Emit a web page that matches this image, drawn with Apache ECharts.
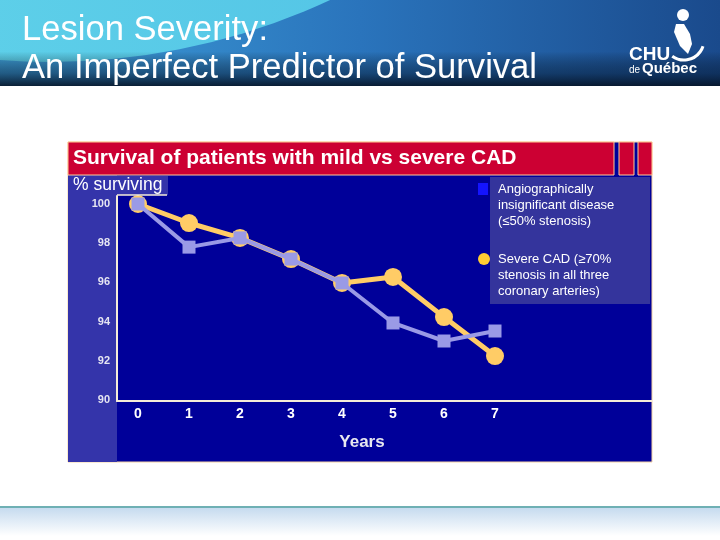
<!DOCTYPE html>
<html>
<head>
<meta charset="utf-8">
<script src="https://cdn.jsdelivr.net/npm/echarts@6/dist/echarts.min.js"></script>
<style>
html,body{margin:0;padding:0;background:#ffffff;}
#chart{width:720px;height:540px;}
</style>
</head>
<body>
<div id="chart"></div>
<script>
// ---- data ----
var years = [0, 1, 2, 3, 4, 5, 6, 7];
var mildSurvival = [100, 97.8, 98.27, 97.19, 95.97, 93.93, 93.01, 93.52];
var severeSurvival = [100, 99.03, 98.27, 97.19, 95.97, 96.28, 94.23, 92.24];
var yTicks = [90, 92, 94, 96, 98, 100];
var xTicks = [0, 1, 2, 3, 4, 5, 6, 7];
var mildLabel = ['Angiographically', 'insignificant disease', '(≤50% stenosis)'];
var severeLabel = ['Severe CAD (≥70%', 'stenosis in all three', 'coronary arteries)'];

var FONT = '"Liberation Sans", Arial, sans-serif';
var NARROW = '"Liberation Sans Narrow", "Liberation Sans", Arial, sans-serif';
var chart = echarts.init(document.getElementById('chart'), null, {renderer: 'canvas'});

function textEl(txt, x, y, size, weight, color, align, family) {
  return {type: 'text', x: x, y: y, z: 20,
    style: {text: txt, fill: color, font: (weight || 'normal') + ' ' + size + 'px ' + (family || FONT),
      textAlign: align || 'left', textVerticalAlign: 'middle'}};
}

var graphics = [
  // header
  {type: 'rect', z: -20, shape: {x: 0, y: 0, width: 720, height: 86},
   style: {fill: new echarts.graphic.LinearGradient(0, 0, 1, 0, [
     {offset: 0, color: '#3f9fd8'}, {offset: 0.5, color: '#2a74bc'}, {offset: 1, color: '#1a4a8c'}])}},
  {type: 'circle', z: -19, shape: {cx: 50, cy: -602, r: 664},
   style: {fill: new echarts.graphic.LinearGradient(0, 0, 1, 0, [
     {offset: 0.3, color: '#62d4ea'}, {offset: 1, color: '#4cbde4'}])}},
  {type: 'rect', z: -18, shape: {x: 0, y: 0, width: 720, height: 86},
   style: {fill: new echarts.graphic.LinearGradient(0, 0, 0, 1, [
     {offset: 0, color: 'rgba(0,0,0,0)'}, {offset: 0.6, color: 'rgba(0,0,0,0)'},
     {offset: 0.85, color: 'rgba(5,25,50,0.5)'}, {offset: 1, color: 'rgba(5,18,36,0.9)'}])}},
  textEl('Lesion Severity:', 22, 30, 34.6, 'normal', '#ffffff'),
  textEl('An Imperfect Predictor of Survival', 22, 68, 34.6, 'normal', '#ffffff'),
  // logo
  textEl('CHU', 629, 55, 19, 'bold', '#ffffff', 'left', NARROW),
  textEl('de', 629, 70, 10, 'normal', '#ffffff', 'left', NARROW),
  textEl('Québec', 642, 69, 15, 'bold', '#ffffff', 'left', NARROW),
  {type: 'circle', z: 20, shape: {cx: 683, cy: 15, r: 6}, style: {fill: '#ffffff'}},
  {type: 'polygon', z: 20, shape: {points: [[676, 24], [684, 24], [690, 34], [692, 44], [688, 54], [680, 46], [674, 32]]}, style: {fill: '#ffffff'}},
  {type: 'arc', z: 20, shape: {cx: 684, cy: 40, r: 20, startAngle: Math.PI * 0.7, endAngle: Math.PI * 2.1, clockwise: false},
   style: {stroke: '#ffffff', lineWidth: 3, fill: null}},
  // footer
  {type: 'rect', z: -20, shape: {x: 0, y: 506, width: 720, height: 2}, style: {fill: '#6fb0b4'}},
  {type: 'rect', z: -20, shape: {x: 0, y: 508, width: 720, height: 28},
   style: {fill: new echarts.graphic.LinearGradient(0, 0, 0, 1, [
     {offset: 0, color: '#c6dbef'}, {offset: 1, color: '#ffffff'}])}},
  // chart panel
  {type: 'rect', z: -10, shape: {x: 68, y: 142, width: 584, height: 320},
   style: {fill: '#000099', stroke: '#f3d2a4', lineWidth: 1}},
  {type: 'rect', z: -9, shape: {x: 68, y: 175, width: 49, height: 287}, style: {fill: '#3434aa'}},
  {type: 'rect', z: -9, shape: {x: 68, y: 142, width: 546, height: 33},
   style: {fill: '#cc0033', stroke: '#ffcc99', lineWidth: 1}},
  {type: 'rect', z: -9, shape: {x: 619, y: 142, width: 15, height: 33},
   style: {fill: '#cc0033', stroke: '#ffcc99', lineWidth: 1}},
  {type: 'rect', z: -9, shape: {x: 638, y: 142, width: 14, height: 33},
   style: {fill: '#cc0033', stroke: '#ffcc99', lineWidth: 1}},
  textEl('Survival of patients with mild vs severe CAD', 73, 158, 21, 'bold', '#ffffff'),
  {type: 'rect', z: -8, shape: {x: 68, y: 176, width: 100, height: 19}, style: {fill: '#3434aa'}},
  {type: 'line', z: 5, shape: {x1: 117, y1: 195, x2: 167, y2: 195}, style: {stroke: '#f5ecd8', lineWidth: 1.5}},
  textEl('% surviving', 73, 185, 17.5, 'normal', '#ffffff'),
  textEl('Years', 362, 442, 17, 'bold', '#e8e8f0', 'center'),
  // legend
  {type: 'rect', z: 6, shape: {x: 490, y: 177, width: 160, height: 127}, style: {fill: '#34349c'}},
  {type: 'rect', z: 7, shape: {x: 478, y: 183, width: 10, height: 12}, style: {fill: '#1414ff'}},
  {type: 'circle', z: 7, shape: {cx: 484, cy: 259, r: 6}, style: {fill: '#ffcc33'}}
];
mildLabel.forEach(function (t, i) { graphics.push(textEl(t, 498, 189 + i * 16, 13, 'normal', '#ffffff')); });
severeLabel.forEach(function (t, i) { graphics.push(textEl(t, 498, 259 + i * 16, 13, 'normal', '#ffffff')); });

var option = {
  backgroundColor: '#ffffff',
  animation: false,
  graphic: {elements: graphics},
  grid: {left: 117, right: 68, top: 196, bottom: 139, containLabel: false},
  xAxis: {
    type: 'value', min: -21 / 51, max: 514 / 51,
    axisLine: {show: true, onZero: false, lineStyle: {color: '#f5ecd8', width: 2}},
    axisTick: {show: false},
    splitLine: {show: false},
    axisLabel: {customValues: xTicks, color: '#ffffff', fontFamily: FONT, fontWeight: 'bold', fontSize: 14, margin: 6}
  },
  yAxis: {
    type: 'value', min: 90 - 1 / 19.6, max: 100 + 8 / 19.6,
    axisLine: {show: true, onZero: false, lineStyle: {color: '#f5ecd8', width: 2}},
    axisTick: {show: false},
    splitLine: {show: false},
    axisLabel: {customValues: yTicks, color: '#e6e6f2', fontFamily: NARROW,
      fontWeight: 'bold', fontSize: 11, margin: 7}
  },
  series: [
    {name: 'Severe CAD', type: 'line', z: 2,
     data: years.map(function (x, i) { return [x, severeSurvival[i]]; }),
     symbol: 'circle', symbolSize: 18,
     lineStyle: {color: '#ffcc66', width: 5},
     itemStyle: {color: '#ffcc66'}},
    {name: 'Angiographically insignificant disease', type: 'line', z: 3,
     data: years.map(function (x, i) { return [x, mildSurvival[i]]; }),
     symbol: 'rect', symbolSize: 13,
     lineStyle: {color: '#9a9ae6', width: 4},
     itemStyle: {color: '#9a9ae6'}}
  ]
};
chart.setOption(option);
</script>
</body>
</html>
